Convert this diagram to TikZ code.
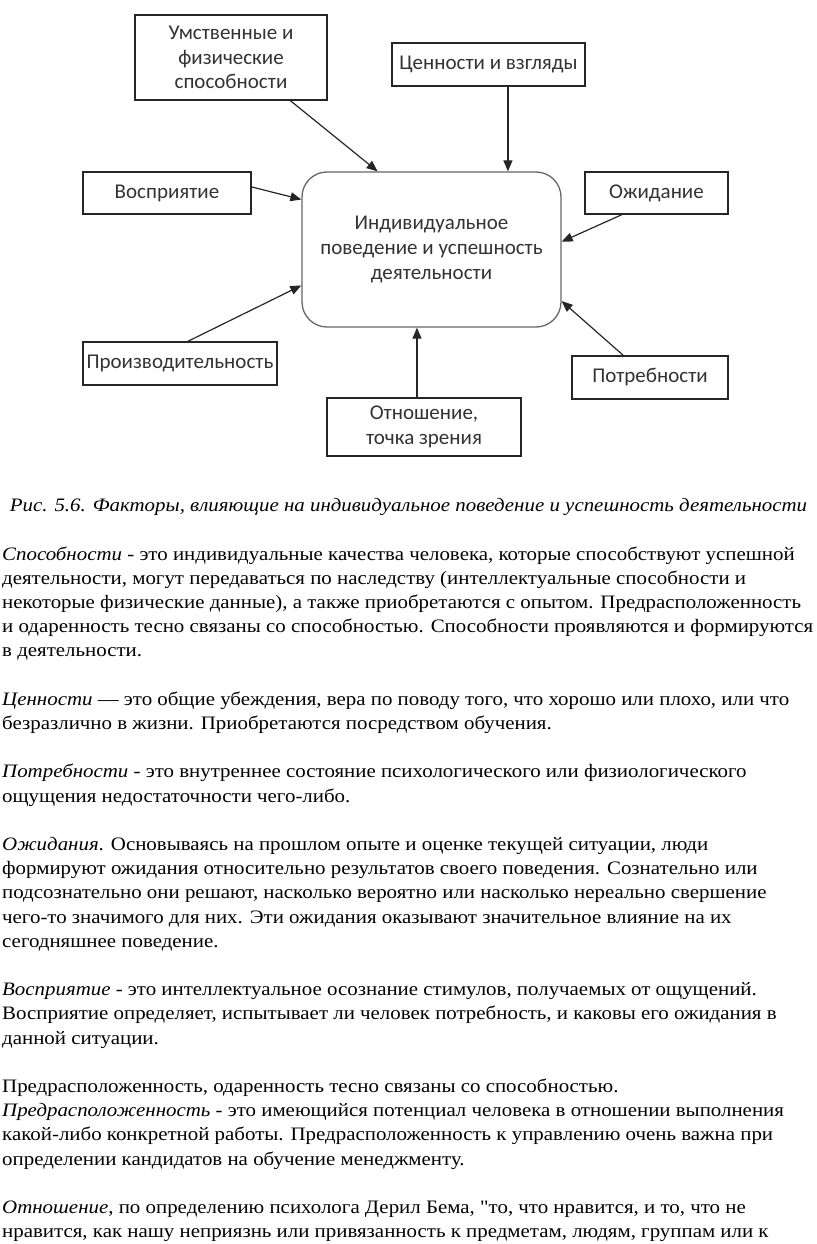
\documentclass[tikz,border=0pt]{standalone}
\usepackage{fontspec}
\setmainfont{Liberation Serif}[FakeStretch=1.1, Ligatures=TeXOff]
\newfontfamily\diag{Carlito}
\usetikzlibrary{arrows.meta,calc}
\tikzset{
  box/.style={draw=black!85, line width=1.3pt, fill=white, inner sep=0pt, align=center, font=\diag\fontsize{21}{24.5}\selectfont, text=black!80},
  mainbox/.style={draw=black!60, line width=1.3pt, rounded corners=25pt, inner sep=0pt, align=center, font=\diag\fontsize{21}{25}\selectfont, text=black!80},
  conn/.style={line width=1.2pt, draw=black!85, -{Triangle[length=11pt,width=9pt]}},
  body/.style={anchor=base west, inner sep=0pt, font=\fontsize{19}{24}\selectfont},
  captext/.style={anchor=base, inner sep=0pt, font=\itshape\fontsize{19}{24}\selectfont}
}
\begin{document}
\begin{tikzpicture}[x=1pt,y=-1pt]
\useasboundingbox (0,0) rectangle (816,1244);
% boxes
\node[box, minimum width=192pt, minimum height=85pt] (um) at (231,57.5) {Умственные и\\физические\\способности};
\node[box, minimum width=193pt, minimum height=43pt] (cen) at (488.5,64.5) {Ценности и взгляды};
\node[box, minimum width=168pt, minimum height=42pt] (vos) at (167,193) {Восприятие};
\node[box, minimum width=143pt, minimum height=42pt] (ozh) at (656.5,193) {Ожидание};
\node[mainbox, minimum width=259pt, minimum height=155pt] (main) at (431.5,249.5) {Индивидуальное\\поведение и успешность\\деятельности};
\node[box, minimum width=194pt, minimum height=43pt] (pro) at (180,363.5) {Производительность};
\node[box, minimum width=156pt, minimum height=43pt] (pot) at (650,377.5) {Потребности};
\node[box, minimum width=194pt, minimum height=58pt] (otn) at (424,427) {Отношение,\\точка зрения};
% connectors
\draw[conn] ($(um.south west)!0.807!(um.south east)$) -- ($(main.north west)!0.293!(main.north east)$);
\draw[conn] ($(cen.south west)!0.60!(cen.south east)$) coordinate (c1) -- (c1 |- main.north);
\draw[conn] ($(vos.north east)!0.36!(vos.south east)$) -- ($(main.north west)!0.18!(main.south west)$);
\draw[conn] ($(ozh.south west)!0.26!(ozh.south east)$) -- ($(main.north east)!0.45!(main.south east)$);
\draw[conn] ($(pro.north west)!0.54!(pro.north east)$) -- ($(main.north west)!0.73!(main.south west)$);
\draw[conn] ($(pot.north west)!0.33!(pot.north east)$) -- ($(main.north east)!0.83!(main.south east)$);
\draw[conn] ($(otn.north west)!0.464!(otn.north east)$) coordinate (c2) -- (c2 |- main.south);
% caption
\node[captext] (caption) at (408.5,511) {Рис. 5.6. Факторы, влияющие на индивидуальное поведение и успешность деятельности};
% body text
\node[body] (l0) at (2,560.0) {\textit{Способности} - это индивидуальные качества человека, которые способствуют успешной};
\node[body] (l1) at (2,584.2) {деятельности, могут передаваться по наследству (интеллектуальные способности и};
\node[body] (l2) at (2,608.4) {некоторые физические данные), а также приобретаются с опытом. Предрасположенность};
\node[body] (l3) at (2,632.6) {и одаренность тесно связаны со способностью. Способности проявляются и формируются};
\node[body] (l4) at (2,656.8) {в деятельности.};
\node[body] (l6) at (2,705.2) {\textit{Ценности} — это общие убеждения, вера по поводу того, что хорошо или плохо, или что};
\node[body] (l7) at (2,729.4) {безразлично в жизни. Приобретаются посредством обучения.};
\node[body] (l9) at (2,777.8) {\textit{Потребности} - это внутреннее состояние психологического или физиологического};
\node[body] (l10) at (2,802.0) {ощущения недостаточности чего-либо.};
\node[body] (l12) at (2,850.4) {\textit{Ожидания}. Основываясь на прошлом опыте и оценке текущей ситуации, люди};
\node[body] (l13) at (2,874.6) {формируют ожидания относительно результатов своего поведения. Сознательно или};
\node[body] (l14) at (2,898.8) {подсознательно они решают, насколько вероятно или насколько нереально свершение};
\node[body] (l15) at (2,923.0) {чего-то значимого для них. Эти ожидания оказывают значительное влияние на их};
\node[body] (l16) at (2,947.2) {сегодняшнее поведение.};
\node[body] (l18) at (2,995.6) {\textit{Восприятие} - это интеллектуальное осознание стимулов, получаемых от ощущений.};
\node[body] (l19) at (2,1019.8) {Восприятие определяет, испытывает ли человек потребность, и каковы его ожидания в};
\node[body] (l20) at (2,1044.0) {данной ситуации.};
\node[body] (l22) at (2,1092.4) {Предрасположенность, одаренность тесно связаны со способностью.};
\node[body] (l23) at (2,1116.6) {\textit{Предрасположенность} - это имеющийся потенциал человека в отношении выполнения};
\node[body] (l24) at (2,1140.8) {какой-либо конкретной работы. Предрасположенность к управлению очень важна при};
\node[body] (l25) at (2,1165.0) {определении кандидатов на обучение менеджменту.};
\node[body] (l27) at (2,1213.4) {\textit{Отношение}, по определению психолога Дерил Бема, "то, что нравится, и то, что не};
\node[body] (l28) at (2,1237.6) {нравится, как нашу неприязнь или привязанность к предметам, людям, группам или к};
\end{tikzpicture}
\end{document}
